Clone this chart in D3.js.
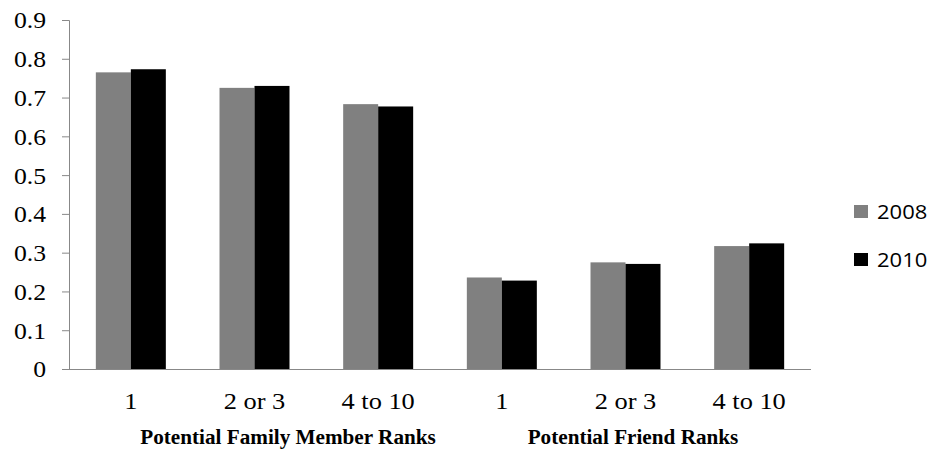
<!DOCTYPE html>
<html>
<head>
  <meta charset="utf-8">
  <title>Ranks 2008 vs 2010</title>
  <script src="https://d3js.org/d3.v7.min.js"></script>
  <style>
    body { margin: 0; background: #fff; }
  </style>
</head>
<body>
<div id="chart"></div>
<script>
// categories (index keys, since labels repeat) and their tick labels
var categories = [0, 1, 2, 3, 4, 5];
var tickLabels = ["1", "2 or 3", "4 to 10", "1", "2 or 3", "4 to 10"];
var seriesNames = ["2008", "2010"];
var values2008 = [0.765, 0.725, 0.683, 0.236, 0.275, 0.317];
var values2010 = [0.773, 0.730, 0.677, 0.228, 0.271, 0.324];
var yTicks = [0, 0.1, 0.2, 0.3, 0.4, 0.5, 0.6, 0.7, 0.8, 0.9];
var groupTitles = ["Potential Family Member Ranks", "Potential Friend Ranks"];

var W = 935, H = 453;
var margin = {top: 20, right: 124, bottom: 84, left: 69};
var width = W - margin.left - margin.right,
    height = H - margin.top - margin.bottom;
var colors = {"2008": "#808080", "2010": "#000000"};
var serif = "'Liberation Serif', 'Times New Roman', Times, serif";
var sx = 1.07; // the reference is stretched a little horizontally

var svg = d3.select("#chart").append("svg")
    .attr("width", W)
    .attr("height", H);

var g = svg.append("g")
    .attr("transform", "translate(" + margin.left + "," + margin.top + ")");

var y = d3.scaleLinear().domain([0, 0.9]).range([height, 0]);

var p = 0.434;
var x0 = d3.scaleBand().domain(categories).range([0, width])
    .paddingInner(p).paddingOuter(p / 2);
var x1 = d3.scaleBand().domain(seriesNames).range([0, x0.bandwidth()]);

var rows = categories.map(function(c, i) {
  return {cat: c, vals: [{s: "2008", v: values2008[i]}, {s: "2010", v: values2010[i]}]};
});

// bars
g.selectAll(".grp")
    .data(rows)
    .enter().append("g")
    .attr("transform", function(d) { return "translate(" + x0(d.cat) + ",0)"; })
  .selectAll("rect")
    .data(function(d) { return d.vals; })
    .enter().append("rect")
    .attr("x", function(d) { return x1(d.s); })
    .attr("y", function(d) { return y(d.v); })
    .attr("width", x1.bandwidth())
    .attr("height", function(d) { return height - y(d.v); })
    .attr("fill", function(d) { return colors[d.s]; });

// y axis
var yAxis = g.append("g")
    .call(d3.axisLeft(y).tickValues(yTicks).tickSize(7).tickSizeOuter(7)
      .tickFormat(function(d) { return d === 0 ? "0" : d3.format(".1f")(d); }));
yAxis.select(".domain").attr("stroke", "#888").attr("d", "M-7,0.5H0.5V" + height);
yAxis.selectAll(".tick line").attr("stroke", "#888");
yAxis.selectAll(".tick text")
    .attr("font-family", serif)
    .attr("font-size", 24)
    .attr("fill", "#000")
    .attr("x", 0)
    .attr("dy", "0.33em")
    .attr("transform", "translate(-23,0) scale(" + sx + ",1)");

// x axis line
g.append("line")
    .attr("x1", 0).attr("x2", width)
    .attr("y1", height + 0.5).attr("y2", height + 0.5)
    .attr("stroke", "#888");

// x tick labels
g.selectAll(".xlab")
    .data(categories)
    .enter().append("text")
    .attr("text-anchor", "middle")
    .attr("font-family", serif)
    .attr("font-size", 24)
    .attr("transform", function(d) {
      return "translate(" + (x0(d) + x0.bandwidth() / 2) + "," + (height + 40) + ") scale(" + (sx + 0.03) + ",1)";
    })
    .text(function(d, i) { return tickLabels[i]; });

// group titles
var titleX = [288, 633];
svg.selectAll(".gtitle")
    .data(groupTitles)
    .enter().append("text")
    .attr("text-anchor", "middle")
    .attr("font-family", serif)
    .attr("font-weight", "bold")
    .attr("font-size", 20)
    .attr("transform", function(d, i) { return "translate(" + titleX[i] + ",444) scale(1.06,1)"; })
    .text(function(d) { return d; });

// legend
var legend = svg.selectAll(".leg")
    .data(seriesNames)
    .enter().append("g")
    .attr("transform", function(d, i) { return "translate(854," + (205 + i * 48) + ")"; });
legend.append("rect")
    .attr("width", 14).attr("height", 13)
    .attr("fill", function(d) { return colors[d]; });
legend.append("text")
    .attr("font-family", "'Open Sans', sans-serif")
    .attr("font-size", 20)
    .attr("transform", "translate(23,13.5) scale(1.1,1)")
    .text(function(d) { return d; });
</script>
</body>
</html>
